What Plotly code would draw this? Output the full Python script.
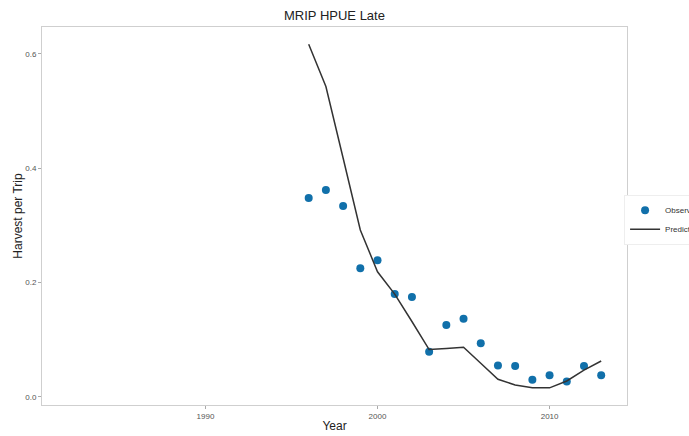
import plotly.graph_objects as go

years = list(range(1996, 2014))
observed = [0.348, 0.362, 0.334, 0.225, 0.239, 0.180, 0.175, 0.079, 0.126, 0.137,
            0.094, 0.055, 0.054, 0.030, 0.038, 0.027, 0.054, 0.038]
predicted = [0.617, 0.543, 0.418, 0.292, 0.219, 0.180, 0.132, 0.083, 0.085, 0.087,
             0.059, 0.031, 0.021, 0.016, 0.016, 0.028, 0.047, 0.063]
x_ticks = [1990, 2000, 2010]
y_ticks = [0.0, 0.2, 0.4, 0.6]

fig = go.Figure()
fig.add_trace(go.Scatter(x=years, y=observed, mode="markers", name="Observed",
                         marker=dict(color="#1170AA", size=8)))
fig.add_trace(go.Scatter(x=years, y=predicted, mode="lines", name="Predicted",
                         line=dict(color="#333333", width=1.5)))

axis_common = dict(showgrid=False, zeroline=False, showline=True, mirror=True,
                   linecolor="#CFCFCF", linewidth=1, ticks="outside", ticklen=3,
                   tickcolor="#AAAAAA", tickfont=dict(size=8, color="#555555"))

# The figure is a bit wider than the window so the legend labels run off the
# right edge, as in the reference; the page's body margin and scrollbars are removed.
fig.update_layout(
    width=700, height=436,
    margin=dict(l=42, r=73, t=27, b=31, autoexpand=False),
    paper_bgcolor="white", plot_bgcolor="white",
    font=dict(family="Liberation Sans, Arial, sans-serif", color="#222222"),
    title=dict(text="MRIP HPUE Late", x=0.5, xref="paper", xanchor="center",
               y=1 - 15 / 436, yanchor="middle", font=dict(size=13, color="#222222")),
    xaxis=dict(range=[1980.5, 2014.5], tickvals=x_ticks,
               title=dict(text="Year", font=dict(size=12), standoff=2), **axis_common),
    yaxis=dict(range=[-0.014, 0.647], tickvals=y_ticks, tickformat=".1f",
               title=dict(text="Harvest per Trip", font=dict(size=12), standoff=0), **axis_common),
    legend=dict(x=0.995, xanchor="left", y=0.49, yanchor="middle",
                font=dict(size=8, color="#333333"), itemwidth=30, tracegroupgap=0,
                bgcolor="white", bordercolor="#EEEEEE", borderwidth=1),
    showlegend=True,
)

fig.write_html(
    "out.html",
    config={"displayModeBar": False},
    post_script="document.body.style.margin='0';document.body.style.overflow='hidden';"
                "document.documentElement.style.overflow='hidden';",
)
